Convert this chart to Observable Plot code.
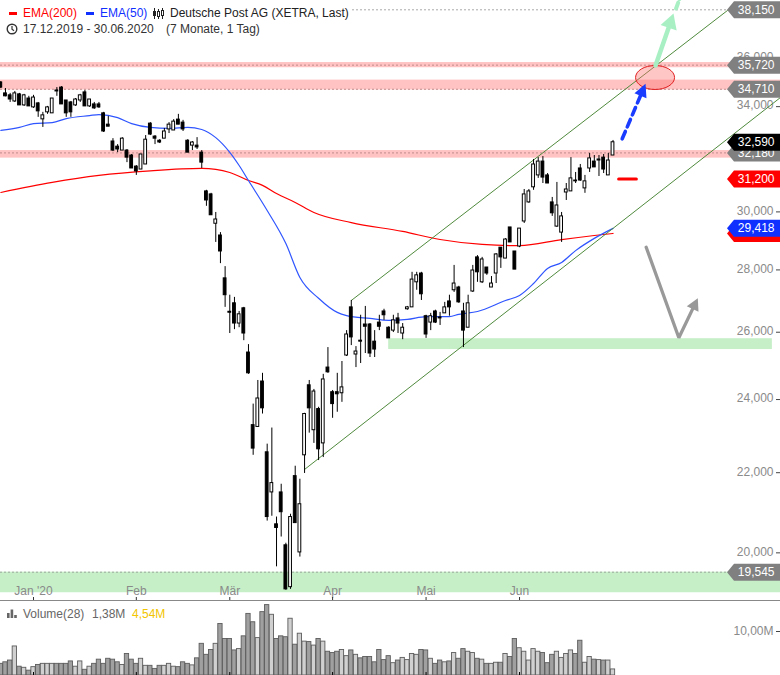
<!DOCTYPE html>
<html><head><meta charset="utf-8">
<script src="https://cdn.jsdelivr.net/npm/d3@7"></script>
<script src="https://cdn.jsdelivr.net/npm/@observablehq/plot@0.6"></script>
<style>
html,body{margin:0;padding:0;background:#fff;overflow:hidden;}
#wrap{position:relative;width:780px;height:675px;overflow:hidden;font-family:"Liberation Sans",Arial,sans-serif;}
#vol{border-top:1px solid #888;}
.t{position:absolute;font-size:12px;line-height:14px;white-space:nowrap;}
</style></head><body>
<div id="wrap">
  <div id="price"></div>
  <div id="vol"></div>
  <div style="position:absolute;left:0;top:0;width:352px;height:20px;background:#fff"></div>
  <span style="position:absolute;left:9px;top:12px;width:8px;height:3px;background:#f00"></span>
  <span class="t" style="left:23px;top:6px;color:#f00">EMA(200)</span>
  <span style="position:absolute;left:86px;top:12px;width:8px;height:3px;background:#1030ff"></span>
  <span class="t" style="left:100px;top:6px;color:#1030ff">EMA(50)</span>
  <svg style="position:absolute;left:153px;top:8px" width="12" height="11"><g stroke="#222" stroke-width="1"><path d="M1.5 0v11M5.5 1v10M9.5 0v11"/><rect x="0.5" y="3.5" width="2" height="4" fill="#222"/><rect x="4.5" y="3.5" width="2" height="5" fill="#fff"/><rect x="8.5" y="2.5" width="2" height="5" fill="#fff"/></g></svg>
  <span class="t" style="left:170px;top:6px;color:#222">Deutsche Post AG (XETRA, Last)</span>
  <svg style="position:absolute;left:6px;top:23px" width="12" height="12"><circle cx="6" cy="6" r="4.8" fill="none" stroke="#333" stroke-width="1.4"/><path d="M6 3v3.3l2 1.5" fill="none" stroke="#333" stroke-width="1.2"/></svg>
  <span class="t" style="left:23px;top:22px;color:#333">17.12.2019 - 30.06.2020</span>
  <span class="t" style="left:166px;top:22px;color:#333">(7 Monate, 1 Tag)</span>
  <svg style="position:absolute;left:7px;top:609px" width="11" height="9"><rect x="0" y="4" width="2.6" height="5" fill="#666"/><rect x="3.6" y="0.5" width="2.6" height="8.5" fill="#666"/><rect x="7.2" y="6" width="2.6" height="3" fill="#666"/></svg>
  <span class="t" style="left:23px;top:607px;color:#666">Volume(28)</span>
  <span class="t" style="left:92px;top:607px;color:#666">1,38M</span>
  <span class="t" style="left:132px;top:607px;color:#f2c500">4,54M</span>
</div>
<script>
// ---------- data ----------
const monthLabels = ["Jan '20", "Feb", "Mär", "Apr", "Mai", "Jun"];
const monthIdx = [7, 29, 49, 71, 91, 111];

const open = [34990,34540,34460,34210,34500,34050,34330,33970,34130,33490,
33770,33730,34660,34780,34250,34170,34050,34250,34580,34010,
34090,34090,33730,33280,32620,32420,32270,32270,32080,31660,
31550,31740,33320,32810,32650,32730,33090,33050,33480,33360,
32650,32460,32460,32190,30740,30630,29580,29170,27720,26640,
26910,26270,26750,25380,23280,23230,24520,22540,21490,20690,
21490,20180,19200,21910,20010,22460,24410,23140,23730,22780,
24930,24210,24210,24180,25290,26780,25320,25740,26240,26240,
25710,26300,26650,26140,26050,26430,25960,26720,26780,27590,
27880,26500,26300,26650,26460,26590,26970,27330,27420,26650,
26140,27290,28420,27590,28080,27420,27880,28750,28380,29450,
28620,28790,29660,30340,30890,31330,31850,31330,30340,29480,
29270,30700,30740,31140,31590,30850,31590,31850,31890,32000,
31330,32080];
const high = [35030,34740,34540,34620,34540,34500,34420,34460,34170,33770,
34010,34330,34780,34820,34250,34210,34330,34500,34660,34290,
34170,34170,33770,33610,32730,32500,32770,32310,32120,31700,
32120,32850,33360,32850,32690,33130,33360,33480,33690,33450,
32690,32620,32770,32270,30780,30670,29980,29270,28110,27170,
27100,26650,26780,25620,23870,24550,24760,22760,23200,20870,
21700,20230,20940,22170,21830,23610,24550,24290,23780,24730,
25530,24260,24760,25110,26050,27000,25560,26530,26810,26270,
26050,26530,26720,26170,26530,26590,26270,26810,27920,27920,
27920,26530,26590,26690,26620,26940,27170,28150,27460,26910,
27170,28150,28480,28420,28080,27780,28550,28750,29060,29450,
28620,29410,30810,30810,31930,32000,32040,31400,30520,31070,
29980,31030,32000,31440,31740,31330,32160,32080,32080,32120,
32160,32660];
const low = [34740,34400,34170,34170,34050,34010,34010,33930,33570,33170,
33690,33730,34420,34090,33570,33570,34010,34170,34010,33970,
33890,33930,32970,33200,32230,32190,32270,31810,31590,31330,
31550,31740,32850,32500,32540,32730,32930,33050,33280,33010,
32190,32270,32310,31590,30200,29880,28930,28210,26780,25960,
26080,26140,25740,24730,22460,23230,23590,20770,20890,19670,
20380,19130,19150,20720,19900,21980,23060,22780,22320,22400,
24760,23470,23640,23920,25260,25590,24930,25050,25350,25230,
25230,26050,26370,25810,25990,25960,25770,26690,26780,27330,
27000,25810,26050,26270,26210,26590,26500,27260,26910,25530,
26140,27260,27590,27550,27820,27420,27550,28050,28380,28930,
28010,28750,29590,30310,30780,31220,31030,31030,29840,29450,
28930,30410,30740,31030,31110,30670,31440,31630,31290,31400,
31330,32080];
const close = [34780,34420,34290,34540,34050,34460,34010,34370,33810,33650,
33970,34330,34620,34090,33730,33770,34290,34460,34010,34290,
33930,33970,33010,33200,32270,32310,32730,32000,31590,31480,
32120,32690,32890,32730,32580,33010,33280,33400,33280,33090,
32190,32580,32390,31810,30410,29880,29730,28620,27170,26610,
26270,26560,25960,24760,22640,24030,23750,20870,21730,20600,
20990,19150,20870,20720,21190,23590,23750,24230,22620,24580,
24790,23870,24150,24350,25930,25840,25410,25710,26170,25350,
25470,26170,26530,25810,26370,26270,26140,26780,27680,27820,
27200,25930,26500,26300,26430,26780,26780,27550,26940,26050,
26910,27980,27920,28350,27880,27550,28520,28420,29030,28930,
28010,29410,30630,30740,31740,31850,31250,31030,29950,30230,
29840,30810,31220,31110,31140,31110,31970,31630,31930,31550,
31890,32590];
// volume in millions
const volume = [2.65,3.0,3.4,6.6,2.0,1.75,1.1,1.9,2.4,2.65,
2.65,2.65,2.65,2.65,2.65,3.2,2.0,3.2,1.3,2.0,
2.65,3.6,2.65,3.8,3.6,3.0,2.4,4.9,3.6,2.65,
3.8,2.2,2.2,1.5,2.2,2.2,2.65,2.0,1.9,3.0,
2.65,2.3,3.9,7.2,4.7,5.8,7.2,11.7,8.3,8.3,
5.7,6.0,8.9,14.0,12.1,8.5,14.4,16.0,13.8,8.3,
8.9,8.7,12.9,7.0,9.5,7.7,7.6,6.8,8.3,7.7,
5.4,5.1,5.4,5.8,4.4,5.7,4.7,3.9,4.2,4.2,
3.0,5.8,3.5,4.4,2.8,3.4,4.0,3.5,4.9,4.7,
5.8,5.7,3.8,2.65,3.4,3.0,3.2,5.1,3.8,6.0,
5.4,5.1,3.8,3.6,2.65,2.65,2.9,2.9,4.9,4.2,
8.3,6.2,5.4,3.4,6.0,5.4,5.1,2.8,4.7,5.4,
4.0,4.9,5.7,4.9,7.9,2.9,4.2,3.6,3.5,3.4,
3.4,1.38];

const ema200Idx = [0,11,21,32,43,49,53,56,59,63,67,75,86,94,103,111,120,127,131];
const ema200 = [30700,31070,31330,31500,31590,31440,31140,30960,30660,30340,29980,29620,29310,29030,28860,28820,29030,29170,29240];
const ema50Idx = [0,4,7,11,14,19,21,25,28,32,36,40,43,46,49,51,53,57,61,64,68,72,74,79,83,87,91,96,98,102,108,111,114,117,120,123,127,131];
const ema50 = [33050,33170,33320,33360,33520,33640,33680,33560,33320,33170,33130,33170,33090,32770,32200,31700,31140,30050,28890,27750,27070,26620,26520,26430,26370,26400,26490,26490,26560,26650,27000,27160,27550,28050,28250,28650,29070,29418];

// 32,000 sits fully under the 32,180 / 32,590 tags in the reference, so it is not listed
const yTicks = [20000,22000,24000,26000,28000,30000,34000,36000];
const resistLevels = [35720, 34710, 32180];
const topLevel = 38150;
const supportLevel = 19545;
const pinkZoneLo = [35610, 34680, 31980];
const pinkZoneHi = [35830, 35090, 32270];
const supportZone = [19073, 19545];
const midZone = {i1: 83, i2: 165.1, lo: 25470, hi: 25800};
const upperChannelIdx = [75, 155.5], upperChannel = [27000, 38120];
const lowerChannelIdx = [65, 166.85], lowerChannel = [22085, 34374];
const stopLevel = {i1: 132.2, i2: 136, v: 31200};
const blueArrowIdx = [132.97, 136.96], blueArrow = [32724, 34478], blueTip = {i: 137.96, v: 34936};
const greenArrowIdx = [140.1, 143.05], greenArrow = [35705, 37431], greenTip = {i: 143.95, v: 37982};
const greenDashIdx = [144.5, 145.88], greenDash = [38209, 39036];
const grayArrowIdx = [138.1, 145.09, 148.13], grayArrow = [28766, 25829, 26757], grayTip = {i: 149.15, v: 27074};
const targetCircle = {i: 140, v: 35199};
const tagValues = [38150, 35720, 34710, 32180, 32590, 31200, 29240, 29418, 19545];
const tagKinds = ["level","level","level","level","last","stop","ema200","ema50","level"];
const tagShowText = [true,true,true,true,true,true,false,true,true];

// ---------- build ----------
const fmt = d3.format(",");
const FONT = "Liberation Sans, Arial, sans-serif";
const candles = open.map((o, i) => ({i, o, h: high[i], l: low[i], c: close[i], up: close[i] >= o}));
const vols = volume.map((v, i) => ({i, v, up: candles[i].up}));
const pts = (idx, vals) => idx.map((i, k) => ({i, v: vals[k]}));

const tagColor = {level: "#808080", last: "#000000", stop: "#ff0000", ema200: "#ff0000", ema50: "#1030ff"};
const tagShape = {draw(c){c.moveTo(-53.5,0);c.lineTo(-46.5,-8.5);c.lineTo(0,-8.5);c.lineTo(0,8.5);c.lineTo(-46.5,8.5);c.closePath();}};
const dashShape = {draw(c){c.moveTo(-4.5,0);c.lineTo(-0.5,0);}};
function head(deg, w, l){
  const a = deg*Math.PI/180, s = Math.sin(a), co = Math.cos(a);
  const p = [[0,0],[-w/2,l],[w/2,l]].map(([x,y]) => [x*co - y*s, x*s + y*co]);
  return {draw(c){c.moveTo(p[0][0],p[0][1]);c.lineTo(p[1][0],p[1][1]);c.lineTo(p[2][0],p[2][1]);c.closePath();}};
}
const ellipse = {draw(c){const rx=19.5, ry=12, k=0.5523;
  c.moveTo(rx,0); c.bezierCurveTo(rx,ry*k,rx*k,ry,0,ry); c.bezierCurveTo(-rx*k,ry,-rx,ry*k,-rx,0);
  c.bezierCurveTo(-rx,-ry*k,-rx*k,-ry,0,-ry); c.bezierCurveTo(rx*k,-ry,rx,-ry*k,rx,0); c.closePath();}};

const xScale = {type: "linear", domain: [0, 131], range: [0.3, 612.5], axis: null};

const tagMarks = tagValues.flatMap((v, k) => {
  const d = [{v, label: fmt(v)}];
  const m = [Plot.dot(d, {y: "v", frameAnchor: "right", symbol: tagShape, fill: tagColor[tagKinds[k]], stroke: null})];
  if (tagShowText[k]) m.push(Plot.text(d, {y: "v", text: "label", frameAnchor: "right", dx: -6, textAnchor: "end", fill: "white", fontSize: 12}));
  return m;
});

const price = Plot.plot({
  width: 780, height: 600, margin: 0,
  x: xScale,
  y: {type: "log", domain: [supportLevel, topLevel], range: [571.7, 9.3], axis: null},
  style: {fontFamily: FONT, fontSize: "12px", background: "white"},
  marks: [
    Plot.rect(pinkZoneLo.map((lo, k) => ({lo, hi: pinkZoneHi[k]})), {y1: "lo", y2: "hi", fill: "#ffc3c3"}),
    Plot.rect([{lo: supportZone[0], hi: supportZone[1]}], {y1: "lo", y2: "hi", fill: "#c6efc8"}),
    Plot.rect([midZone], {x1: "i1", x2: "i2", y1: "lo", y2: "hi", fill: "#c6efc8"}),
    Plot.ruleY(resistLevels, {y: d => d, stroke: "#c08c8c", strokeWidth: 1, strokeDasharray: "2,2"}),
    Plot.ruleY([topLevel], {y: d => d, stroke: "#a8a8a8", strokeWidth: 1, strokeDasharray: "2,2"}),
    Plot.ruleY([supportLevel], {y: d => d, stroke: "#9aa89a", strokeWidth: 1, strokeDasharray: "2,2"}),
    Plot.text(yTicks, {y: d => d, text: d => fmt(d), frameAnchor: "right", dx: -7, dy: -1, textAnchor: "end", fill: "#8a8a8a", fontSize: 12}),
    Plot.dot(yTicks, {y: d => d, frameAnchor: "right", symbol: dashShape, fill: "none", stroke: "#444", strokeWidth: 1}),
    Plot.text(monthLabels, {x: (d, k) => monthIdx[k], text: d => d, frameAnchor: "bottom", dy: -9, lineAnchor: "middle", fill: "#8a8a8a", fontSize: 12}),
    Plot.ruleX(monthIdx, {x: d => d, insetTop: 597, stroke: "#333"}),
    Plot.line(pts(ema200Idx, ema200), {x: "i", y: "v", stroke: "#ff0000", strokeWidth: 1.2, curve: "monotone-x"}),
    Plot.line(pts(ema50Idx, ema50), {x: "i", y: "v", stroke: "#2f55ff", strokeWidth: 1.2, curve: "monotone-x"}),
    Plot.line(pts(upperChannelIdx, upperChannel), {x: "i", y: "v", stroke: "#4f8a3c", strokeWidth: 1}),
    Plot.line(pts(lowerChannelIdx, lowerChannel), {x: "i", y: "v", stroke: "#4f8a3c", strokeWidth: 1}),
    Plot.ruleX(candles, {x: "i", y1: "l", y2: "h", stroke: "#000", strokeWidth: 1}),
    Plot.rect(candles.filter(d => d.up), {x1: d => d.i - 0.3, x2: d => d.i + 0.3, y1: "o", y2: "c", fill: "#fff", stroke: "#000", strokeWidth: 1}),
    Plot.rect(candles.filter(d => !d.up), {x1: d => d.i - 0.3, x2: d => d.i + 0.3, y1: "o", y2: "c", fill: "#000", stroke: "#000", strokeWidth: 1}),
    Plot.line([{i: stopLevel.i1, v: stopLevel.v}, {i: stopLevel.i2, v: stopLevel.v}], {x: "i", y: "v", stroke: "#ff0000", strokeWidth: 3}),
    Plot.dot([targetCircle], {x: "i", y: "v", symbol: ellipse, fill: "#ff7070", fillOpacity: 0.4, stroke: "#e02020", strokeWidth: 1}),
    Plot.line(pts(grayArrowIdx, grayArrow), {x: "i", y: "v", stroke: "#999", strokeWidth: 3.3, strokeLinejoin: "miter"}),
    Plot.dot([grayTip], {x: "i", y: "v", symbol: head(25.6, 13, 12), fill: "#999", stroke: null}),
    Plot.line(pts(blueArrowIdx, blueArrow), {x: "i", y: "v", stroke: "#1a3cff", strokeWidth: 3.6, strokeDasharray: "8,5"}),
    Plot.dot([blueTip], {x: "i", y: "v", symbol: head(23, 13, 13), fill: "#1a3cff", stroke: null}),
    Plot.line(pts(greenArrowIdx, greenArrow), {x: "i", y: "v", stroke: "#a8f0c4", strokeWidth: 4.5}),
    Plot.dot([greenTip], {x: "i", y: "v", symbol: head(19.1, 17, 15), fill: "#a8f0c4", stroke: null}),
    Plot.line(pts(greenDashIdx, greenDash), {x: "i", y: "v", stroke: "#a8f0c4", strokeWidth: 4, strokeDasharray: "6,4", clip: true}),
    ...tagMarks
  ]
});
document.getElementById("price").append(price);

const vol = Plot.plot({
  width: 780, height: 74, margin: 0,
  x: xScale,
  y: {domain: [0, 10], range: [74, 30], axis: null},
  style: {fontFamily: FONT, fontSize: "12px", background: "white"},
  marks: [
    Plot.rect(vols.filter(d => d.up), {x1: d => d.i - 0.46, x2: d => d.i + 0.46, y1: () => 0, y2: "v", fill: "#d0d0d0", stroke: "#5c5c5c", strokeWidth: 0.9}),
    Plot.rect(vols.filter(d => !d.up), {x1: d => d.i - 0.46, x2: d => d.i + 0.46, y1: () => 0, y2: "v", fill: "#a0a0a0", stroke: "#5c5c5c", strokeWidth: 0.9}),
    Plot.ruleX(monthIdx, {x: d => d, insetTop: 71, stroke: "#000"}),
    Plot.text([10], {y: d => d, text: () => "10,00M", frameAnchor: "right", dx: -7, textAnchor: "end", fill: "#8a8a8a", fontSize: 12}),
    Plot.dot([10], {y: d => d, frameAnchor: "right", symbol: dashShape, fill: "none", stroke: "#444", strokeWidth: 1})
  ]
});
document.getElementById("vol").append(vol);
</script>
</body></html>
